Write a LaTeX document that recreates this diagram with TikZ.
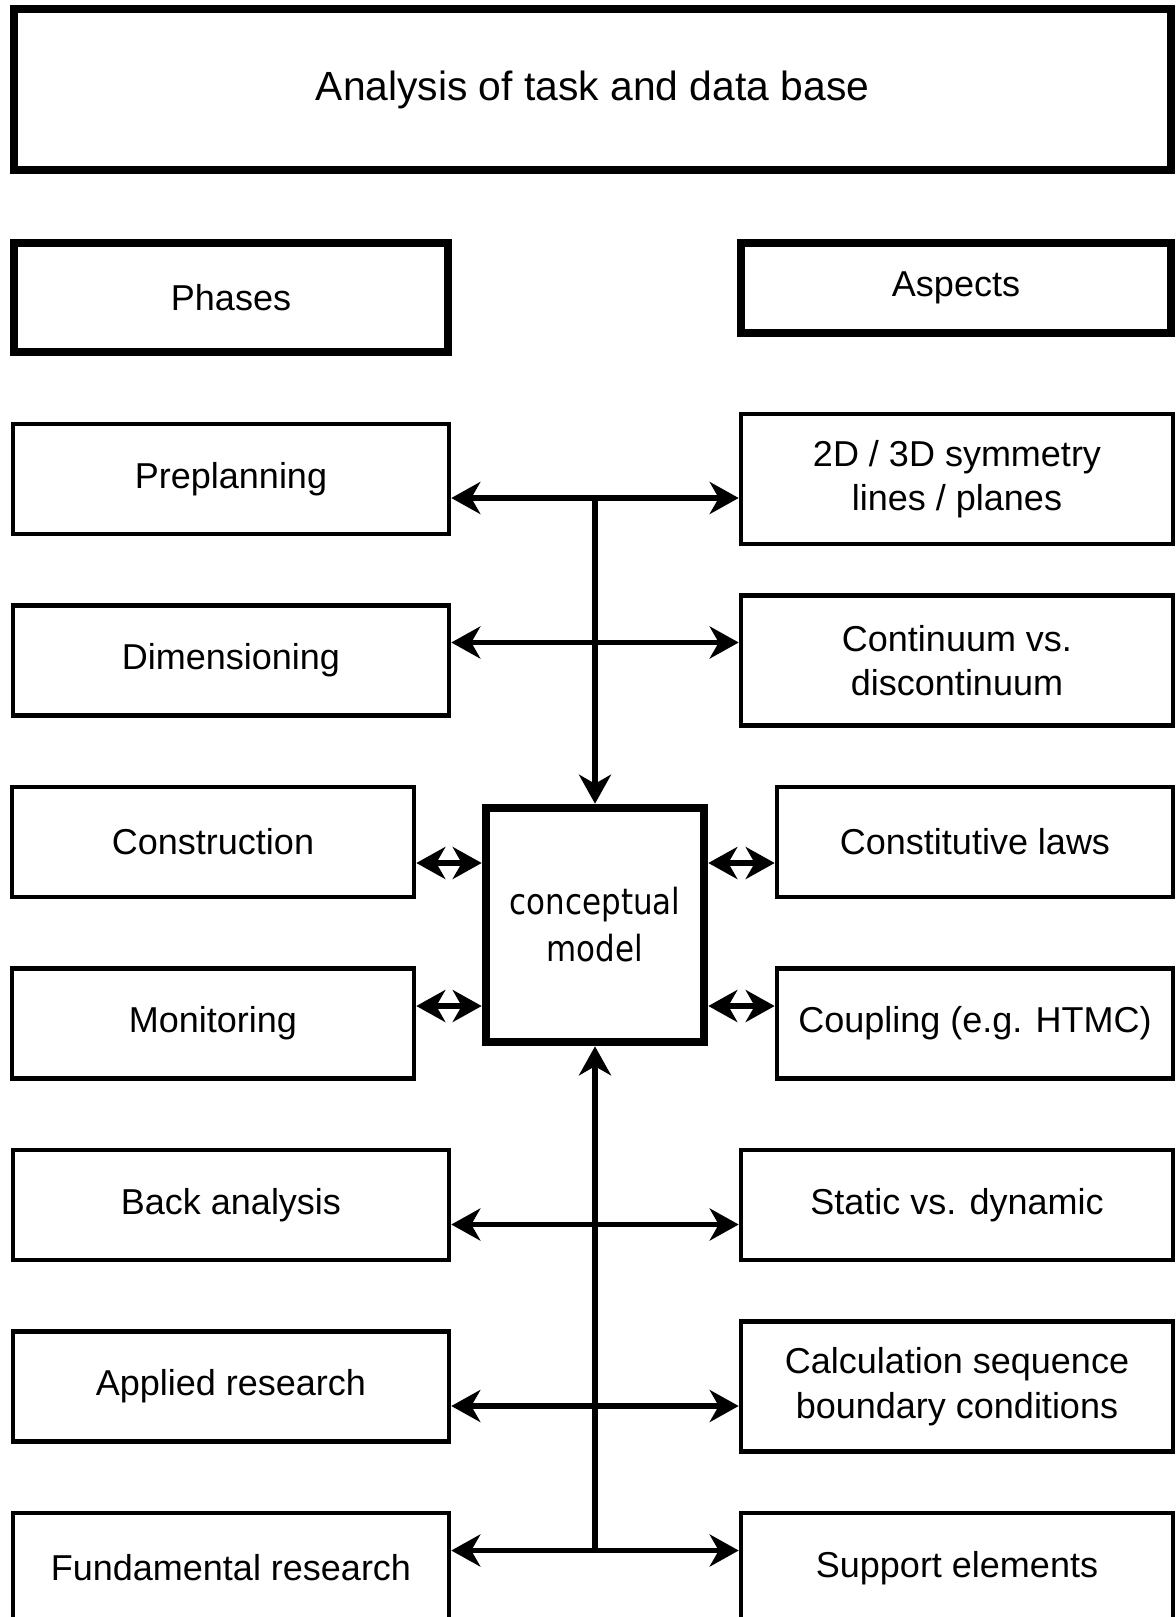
\documentclass[tikz,border=0pt]{standalone}
\usepackage{fontspec}
\setmainfont{Liberation Sans}
\newfontfamily\modelfont[FakeStretch=0.86]{DejaVu Sans}
\usetikzlibrary{arrows.meta,positioning,calc}
\tikzset{
  box/.style={draw, rectangle, line width=2.3pt, align=center, inner sep=0pt, font=\fontsize{18}{22.3}\selectfont},
  heavy/.style={box, line width=4.3pt},
  wide/.style={box, minimum width=218pt, minimum height=55pt},
  narrow/.style={box, minimum width=201pt, minimum height=55pt},
  rwide/.style={box, minimum width=216pt, minimum height=55pt},
  rnarrow/.style={box, minimum width=198pt, minimum height=55pt},
  link/.style={line width=2.6pt, black},
}
\begin{document}
\begin{tikzpicture}[x=0.5pt, y=-0.5pt, >={Stealth[length=14.5pt,width=16pt,inset=4.5pt]}]
 \useasboundingbox (0,0) rectangle (1175,1617);
 % header
 \node[heavy, minimum width=578.5pt, minimum height=80.5pt, font=\fontsize{20.4}{24}\selectfont] (task) at (592.5,89.5) {Analysis of task and data base};
 \node[heavy, minimum width=217pt, minimum height=54.5pt] (phases) at (231,297.5) {Phases};
 \node[heavy, minimum width=215pt, minimum height=45pt] (aspects) at (956,288) {Aspects};
 % phases
 \node[wide] (prep) at (231,479) {Preplanning};
 \node[wide] (dim) at (231,660.5) {Dimensioning};
 \node[narrow] (cons) at (213,842) {Construction};
 \node[narrow] (mon) at (213,1023.5) {Monitoring};
 \node[wide] (back) at (231,1205) {Back analysis};
 \node[wide] (appl) at (231,1386.5) {Applied research};
 \node[wide] (fund) at (231,1568) {Fundamental research};
 % aspects
 \node[rwide, minimum height=65pt] (sym) at (957,479) {2D / 3D symmetry\\lines / planes};
 \node[rwide, minimum height=65pt] (cont) at (957,660.5) {Continuum vs.\\discontinuum};
 \node[rnarrow] (law) at (975,842) {Constitutive laws};
 \node[rnarrow] (coup) at (975,1023.5) {Coupling (e.g. HTMC)};
 \node[rwide] (stat) at (957,1205) {Static vs. dynamic};
 \node[rwide, minimum height=65pt] (calc) at (957,1386.5) {Calculation sequence\\boundary conditions};
 \node[rwide] (supp) at (957,1568) {Support elements};
 % model
 \node[heavy, minimum width=109pt, minimum height=117pt, font=\modelfont\fontsize{18}{23.5}\selectfont] (model) at (595,925) {conceptual\\model};
 % connectors
 \coordinate (r1) at (595,498);
 \coordinate (r2) at (595,642.5);
 \coordinate (r3) at (595,863);
 \coordinate (r4) at (595,1006);
 \coordinate (r5) at (595,1224.5);
 \coordinate (r6) at (595,1406);
 \coordinate (r7) at (595,1550.5);
 \draw[link,<->] (prep.east |- r1) -- (sym.west |- r1);
 \draw[link,<->] (dim.east |- r2) -- (cont.west |- r2);
 \draw[link,<->] (cons.east |- r3) -- (model.west |- r3);
 \draw[link,<->] (model.east |- r3) -- (law.west |- r3);
 \draw[link,<->] (mon.east |- r4) -- (model.west |- r4);
 \draw[link,<->] (model.east |- r4) -- (coup.west |- r4);
 \draw[link,<->] (back.east |- r5) -- (stat.west |- r5);
 \draw[link,<->] (appl.east |- r6) -- (calc.west |- r6);
 \draw[link,<->] (fund.east |- r7) -- (supp.west |- r7);
 \draw[link,->] (r1) -- (model.north);
 \draw[link,->] (r7) -- (model.south);
\end{tikzpicture}
\end{document}
